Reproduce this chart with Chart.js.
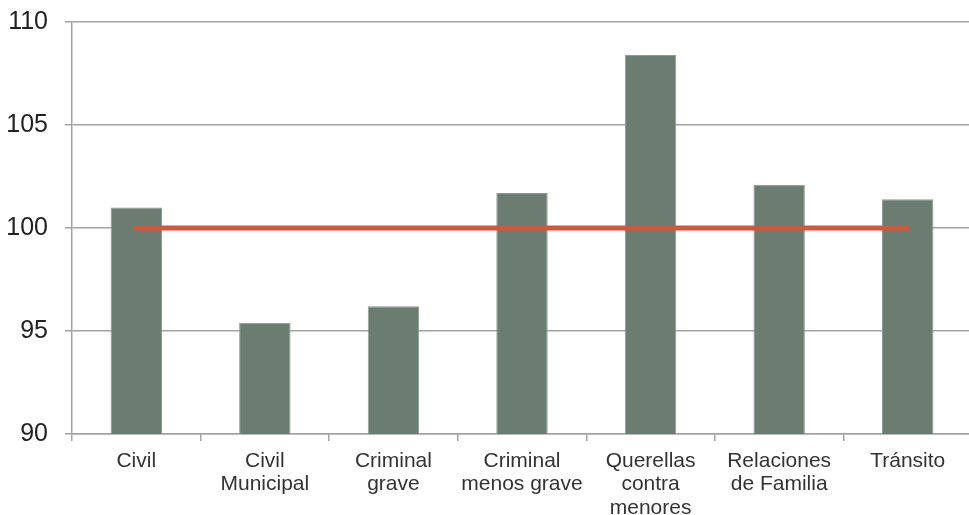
<!DOCTYPE html>
<html>
<head>
<meta charset="utf-8">
<script src="https://cdn.jsdelivr.net/npm/chart.js@4.4.1/dist/chart.umd.min.js"></script>
<style>
  html, body { margin: 0; padding: 0; background: #ffffff; overflow: hidden; }
  #wrap { width: 976px; height: 524px; }
</style>
</head>
<body>
<div id="wrap"><canvas id="c" width="976" height="524"></canvas></div>
<script>
const categories = [
  ["Civil"],
  ["Civil", "Municipal"],
  ["Criminal", "grave"],
  ["Criminal", "menos grave"],
  ["Querellas", "contra", "menores"],
  ["Relaciones", "de Familia"],
  ["Tránsito"]
];
const barValues = [101.0, 95.4, 96.2, 101.7, 108.4, 102.1, 101.4];
const referenceValues = [100, 100, 100, 100, 100, 100, 100];
const yTicks = [90, 95, 100, 105, 110];

const gridColor = '#a3a3a3';

new Chart(document.getElementById('c'), {
  data: {
    labels: categories,
    datasets: [
      {
        type: 'line',
        data: referenceValues,
        borderColor: '#d4553b',
        borderWidth: 5,
        borderCapStyle: 'round',
        pointRadius: 0,
        fill: false,
        order: 0
      },
      {
        type: 'bar',
        data: barValues,
        backgroundColor: '#6b7d71',
        borderColor: '#8d9b91',
        borderWidth: 1,
        barPercentage: 0.4,
        categoryPercentage: 1.0,
        order: 1
      }
    ]
  },
  options: {
    responsive: false,
    animation: false,
    devicePixelRatio: 1,
    layout: { padding: { top: 22, right: 4, left: 0, bottom: 0 } },
    plugins: { legend: { display: false }, tooltip: { enabled: false } },
    scales: {
      x: {
        offset: true,
        grid: {
          offset: true,
          drawOnChartArea: false,
          drawTicks: true,
          tickLength: 7,
          color: gridColor,
          lineWidth: 1.5
        },
        border: { display: true, color: gridColor, width: 1.5 },
        ticks: {
          color: '#333333',
          font: { family: 'Liberation Sans, Arial, sans-serif', size: 21, lineHeight: 1.1 },
          padding: 9,
          maxRotation: 0,
          autoSkip: false
        },
        afterFit: (s) => { s.height = 90; }
      },
      y: {
        min: 90,
        max: 110,
        afterBuildTicks: (s) => { s.ticks = yTicks.map(v => ({ value: v })); },
        grid: {
          color: gridColor,
          lineWidth: 1.5,
          tickLength: 7
        },
        border: { display: true, color: gridColor, width: 1.5 },
        ticks: {
          color: '#222222',
          font: { family: 'Liberation Sans, Arial, sans-serif', size: 25 },
          padding: 17
        },
        afterFit: (s) => { s.width = 72; s.paddingTop = 0; s.paddingBottom = 0; }
      }
    }
  }
});
</script>
</body>
</html>
